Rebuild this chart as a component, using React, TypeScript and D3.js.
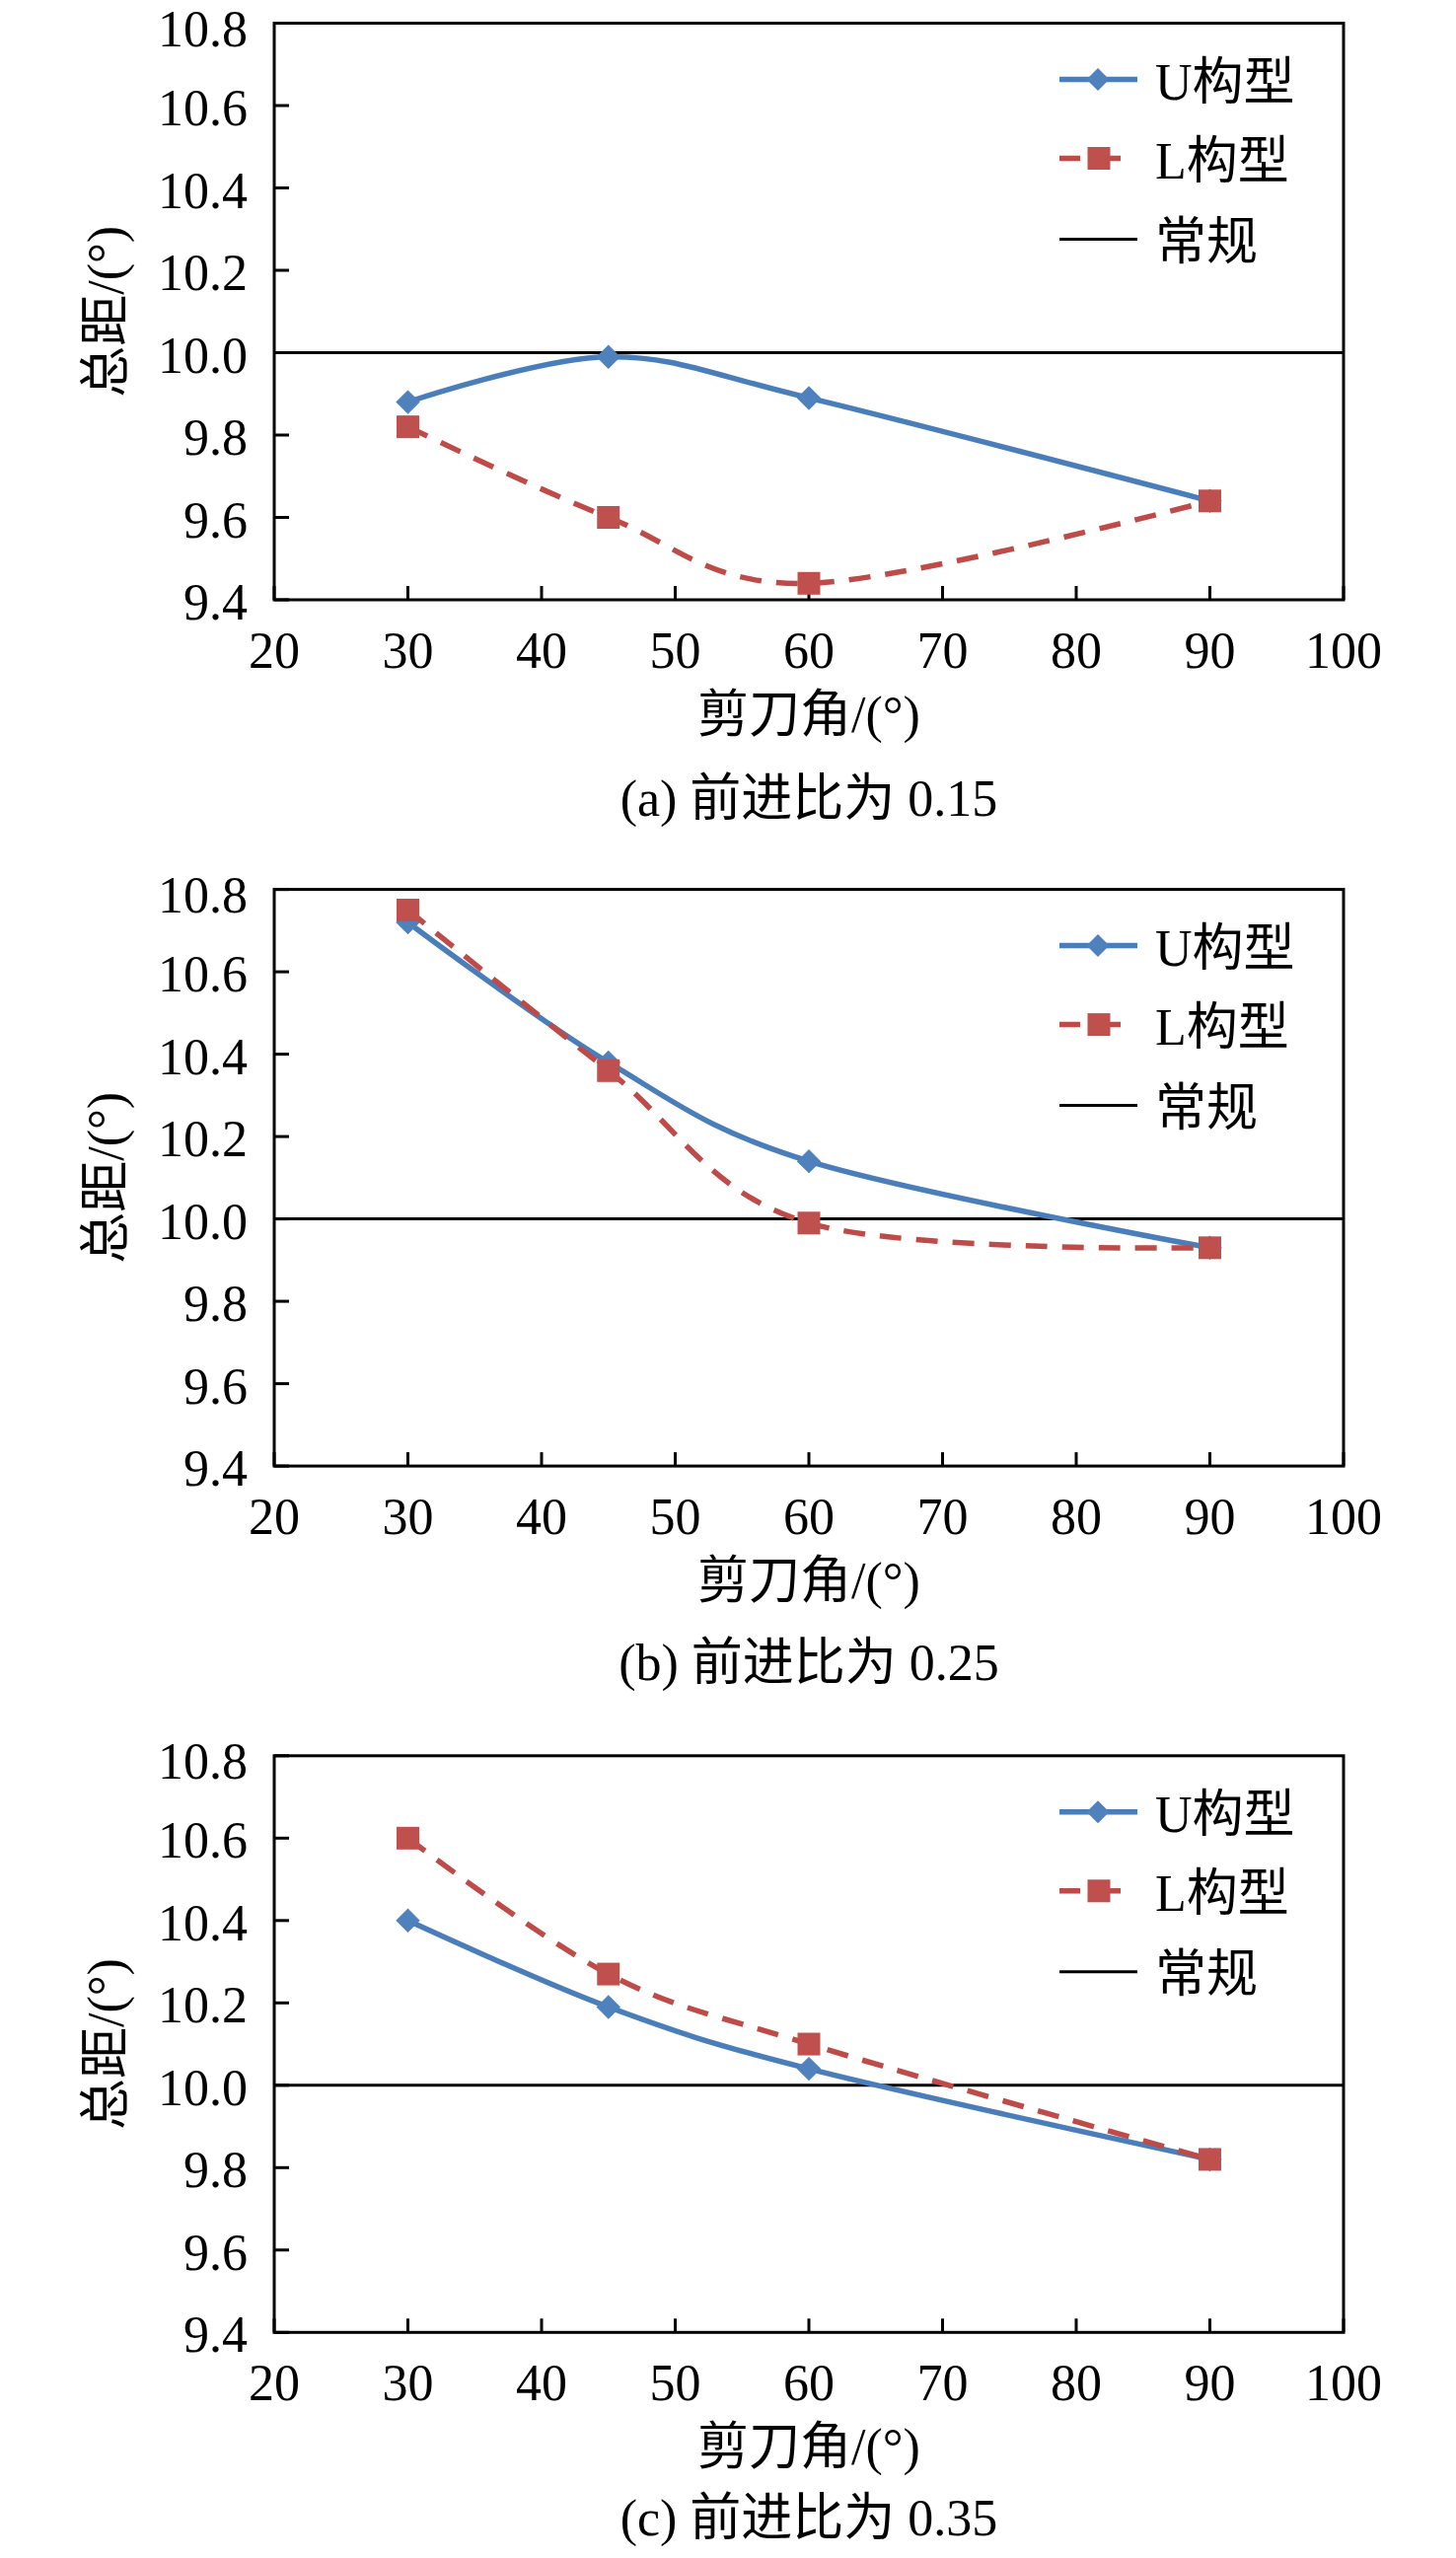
import { useEffect, useRef } from "react";
import * as d3 from "d3";

// shear angle (deg) sampled in every panel
const angles = [30, 45, 60, 90];
const captions = ["(a) 前进比为 0.15", "(b) 前进比为 0.25", "(c) 前进比为 0.35"];
// total pitch (deg), one row per advance ratio
const uValues = [
  [9.88, 9.99, 9.89, 9.64],
  [10.72, 10.38, 10.14, 9.93],
  [10.4, 10.19, 10.04, 9.82],
];
const lValues = [
  [9.82, 9.6, 9.44, 9.64],
  [10.75, 10.36, 9.99, 9.93],
  [10.6, 10.27, 10.1, 9.82],
];
const conventional = 10.0;
const xTicks = [20, 30, 40, 50, 60, 70, 80, 90, 100];
const yTicks = [9.4, 9.6, 9.8, 10.0, 10.2, 10.4, 10.6, 10.8];
const legendNames = ["U构型", "L构型", "常规"];
const xTitle = "剪刀角/(°)";
const yTitle = "总距/(°)";

const W = 1476;
const H = 2593;
const FONT = "'Liberation Serif', 'Times New Roman', 'Noto Sans CJK SC', serif";

export default function App() {
  const ref = useRef<SVGSVGElement | null>(null);

  useEffect(() => {
    if (!ref.current) return;
    const svg = d3.select(ref.current);
    svg.selectAll("*").remove();

    const left = 278;
    const right = 1362;
    const panelTops = [23.5, 901.6, 1779.8];
    const panelH = 584.5;
    const captionOffset = [219, 217, 206];

    const x = d3.scaleLinear().domain([20, 100]).range([left, right]);

    const blue = "#4A7EBB";
    const blueFill = "#4F81BD";
    const red = "#BE4B48";
    const redFill = "#C0504D";

    const diamond = d3.symbol().type(d3.symbolSquare).size(265)();
    const square = d3.symbol().type(d3.symbolSquare).size(529)();

    panelTops.forEach((top, i) => {
      const bottom = top + panelH;
      const y = d3.scaleLinear().domain([9.4, 10.8]).range([bottom, top]);
      const g = svg.append("g");

      // frame
      g.append("rect")
        .attr("x", left)
        .attr("y", top)
        .attr("width", right - left)
        .attr("height", bottom - top)
        .attr("fill", "none")
        .attr("stroke", "#000")
        .attr("stroke-width", 3);

      // y ticks + labels
      g.selectAll("line.yt")
        .data(yTicks)
        .join("line")
        .attr("x1", left)
        .attr("x2", left + 15)
        .attr("y1", (d) => y(d))
        .attr("y2", (d) => y(d))
        .attr("stroke", "#000")
        .attr("stroke-width", 3);
      g.selectAll("text.yl")
        .data(yTicks)
        .join("text")
        .attr("x", 251)
        .attr("y", (d) => y(d) + (d === 10.8 ? 23.5 : 20))
        .attr("text-anchor", "end")
        .attr("font-family", FONT)
        .attr("font-size", 52)
        .text((d) => d3.format(".1f")(d));

      // x ticks + labels
      g.selectAll("line.xt")
        .data(xTicks)
        .join("line")
        .attr("x1", (d) => x(d))
        .attr("x2", (d) => x(d))
        .attr("y1", bottom)
        .attr("y2", bottom - 14)
        .attr("stroke", "#000")
        .attr("stroke-width", 3);
      g.selectAll("text.xl")
        .data(xTicks)
        .join("text")
        .attr("x", (d) => x(d))
        .attr("y", bottom + 69)
        .attr("text-anchor", "middle")
        .attr("font-family", FONT)
        .attr("font-size", 52)
        .text((d) => String(d));

      // axis titles and caption
      g.append("text")
        .attr("x", 820)
        .attr("y", bottom + 134)
        .attr("text-anchor", "middle")
        .attr("font-family", FONT)
        .attr("font-size", 52)
        .text(xTitle);
      g.append("text")
        .attr("transform", `translate(125,${(top + bottom) / 2}) rotate(-90)`)
        .attr("text-anchor", "middle")
        .attr("font-family", FONT)
        .attr("font-size", 52)
        .text(yTitle);
      g.append("text")
        .attr("x", 820)
        .attr("y", bottom + captionOffset[i])
        .attr("text-anchor", "middle")
        .attr("font-family", FONT)
        .attr("font-size", 52)
        .text(captions[i]);

      // conventional rotor reference line
      g.append("line")
        .attr("x1", left)
        .attr("x2", right)
        .attr("y1", y(conventional))
        .attr("y2", y(conventional))
        .attr("stroke", "#000")
        .attr("stroke-width", 3);

      const line = d3
        .line<number>()
        .x((_, j) => x(angles[j]))
        .y((d) => y(d))
        .curve(d3.curveCardinal.tension(0));

      // U series
      g.append("path")
        .attr("d", line(uValues[i]))
        .attr("fill", "none")
        .attr("stroke", blue)
        .attr("stroke-width", 5.5);
      g.selectAll("path.um")
        .data(uValues[i])
        .join("path")
        .attr("d", diamond)
        .attr("transform", (d, j) => `translate(${x(angles[j])},${y(d)}) rotate(45)`)
        .attr("fill", blueFill)
        .attr("stroke", blueFill)
        .attr("stroke-width", 1);

      // L series
      g.append("path")
        .attr("d", line(lValues[i]))
        .attr("fill", "none")
        .attr("stroke", red)
        .attr("stroke-width", 5.5)
        .attr("stroke-dasharray", "22 15");
      g.selectAll("path.lm")
        .data(lValues[i])
        .join("path")
        .attr("d", square)
        .attr("transform", (d, j) => `translate(${x(angles[j])},${y(d)})`)
        .attr("fill", redFill);

      // legend
      const legendY = [top + 57, top + 137, top + 219];
      g.append("line")
        .attr("x1", 1074)
        .attr("x2", 1153)
        .attr("y1", legendY[0])
        .attr("y2", legendY[0])
        .attr("stroke", blue)
        .attr("stroke-width", 5.5);
      g.append("path")
        .attr("d", diamond)
        .attr("transform", `translate(1113,${legendY[0]}) rotate(45)`)
        .attr("fill", blueFill);
      g.append("line")
        .attr("x1", 1074)
        .attr("x2", 1136)
        .attr("y1", legendY[1])
        .attr("y2", legendY[1])
        .attr("stroke", red)
        .attr("stroke-width", 5.5)
        .attr("stroke-dasharray", "21 9 32");
      g.append("path")
        .attr("d", square)
        .attr("transform", `translate(1114,${legendY[1]})`)
        .attr("fill", redFill);
      g.append("line")
        .attr("x1", 1074)
        .attr("x2", 1153)
        .attr("y1", legendY[2])
        .attr("y2", legendY[2])
        .attr("stroke", "#000")
        .attr("stroke-width", 3);
      g.selectAll("text.lg")
        .data(legendNames)
        .join("text")
        .attr("x", 1171)
        .attr("y", (_, j) => legendY[j] + 20)
        .attr("font-family", FONT)
        .attr("font-size", 52)
        .text((d) => d);
    });
  }, []);

  return (
    <svg
      ref={ref}
      width={W}
      height={H}
      style={{ position: "absolute", left: 0, top: 0, background: "#fff" }}
    />
  );
}
